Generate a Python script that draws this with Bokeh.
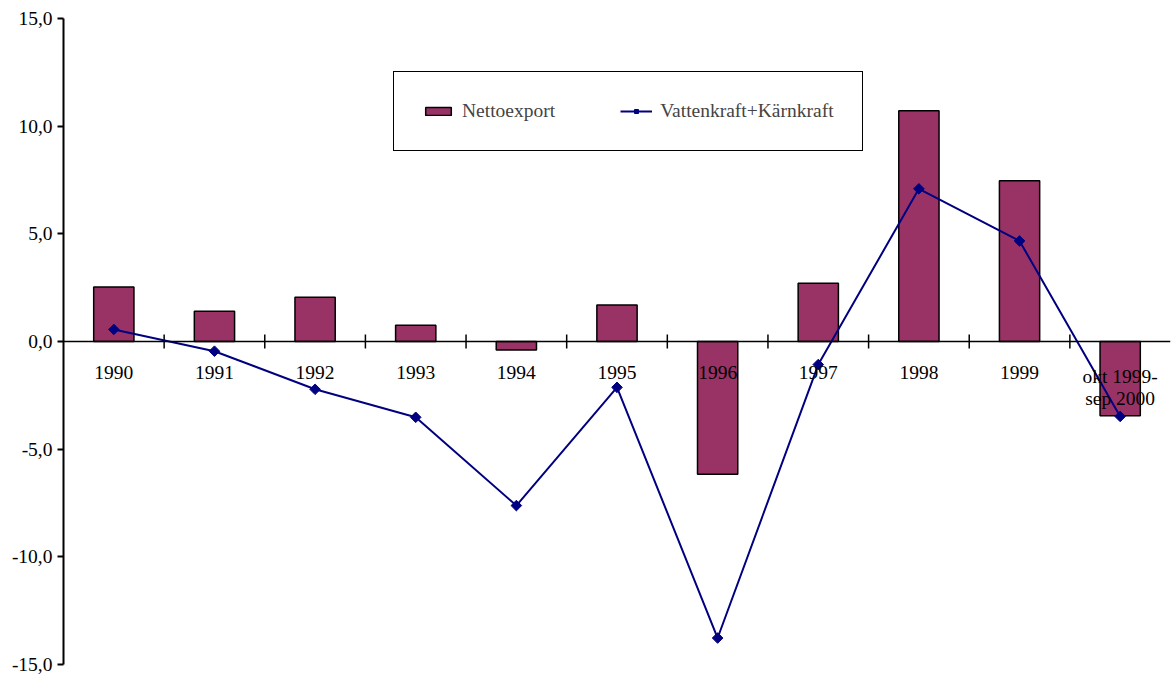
import math
from bokeh.plotting import figure
from bokeh.models import Range1d, FixedTicker, Span, ColumnDataSource, Legend, LegendItem
from bokeh.core.properties import value
from bokeh.embed import file_html
from bokeh.resources import INLINE

categories = ["1990", "1991", "1992", "1993", "1994", "1995", "1996", "1997", "1998", "1999", "okt 1999-\nsep 2000"]
nettoexport = [2.53, 1.41, 2.06, 0.76, -0.40, 1.69, -6.16, 2.71, 10.72, 7.46, -3.45]
vatten_karn = [0.56, -0.45, -2.22, -3.52, -7.62, -2.13, -13.77, -1.07, 7.09, 4.67, -3.48]
y_ticks = [-15, -10, -5, 0, 5, 10, 15]
y_tick_labels = ["-15,0", "-10,0", "-5,0", "0,0", "5,0", "10,0", "15,0"]

FONT = "Liberation Serif"
FS = "19.5px"
BAR_COLOR = "#993366"
LINE_COLOR = "#000080"

n = len(categories)
xc = [i + 0.5 for i in range(n)]
line1 = [c.split("\n")[0] for c in categories]
line2 = [c.split("\n")[1] if "\n" in c else "" for c in categories]
src = ColumnDataSource(dict(x=xc, l1=line1, l2=line2, bar=nettoexport, line=vatten_karn,
                            zero=[0] * n))

p = figure(width=1172, height=675, output_backend="svg", toolbar_location=None,
           x_range=Range1d(0, n), y_range=Range1d(-15, 15),
           min_border_left=63, min_border_right=2, min_border_top=18, min_border_bottom=11)
p.outline_line_color = None
p.xgrid.visible = False
p.ygrid.visible = False
p.xaxis.visible = False

ya = p.yaxis[0]
ya.ticker = FixedTicker(ticks=y_ticks)
ya.major_label_overrides = {t: l for t, l in zip(y_ticks, y_tick_labels)}
ya.axis_line_width = 2
ya.axis_line_color = "black"
ya.major_tick_line_width = 2
ya.major_tick_in = 0
ya.major_tick_out = 6
ya.minor_tick_line_color = None
ya.major_label_standoff = 5
ya.major_label_text_font = FONT
ya.major_label_text_font_size = FS
ya.major_label_text_color = "black"

bars = p.vbar(x="x", top="bar", bottom=0, width=0.4, source=src,
              fill_color=BAR_COLOR, line_color="black", line_width=1.5)

# zero axis line with boundary ticks
p.add_layout(Span(location=0, dimension="width", line_color="black", line_width=1.5))
bounds = list(range(1, n))
p.scatter(x=bounds, y=[0] * len(bounds), marker="dash", angle=math.pi / 2, size=14,
          line_color="black", line_width=1.5)

line = p.line(x="x", y="line", source=src, line_color=LINE_COLOR, line_width=2)
pts = p.scatter(x="x", y="line", source=src, marker="square", angle=math.pi / 4, size=7.5,
                fill_color=LINE_COLOR, line_color=LINE_COLOR)

for col, off in (("l1", 24), ("l2", 46)):
    p.text(x="x", y="zero", text=col, source=src, text_font=value(FONT),
           text_font_size=FS, text_align="center", text_baseline="top",
           y_offset=off, text_color="black")

legend = Legend(items=[LegendItem(label="Nettoexport", renderers=[bars]),
                       LegendItem(label="Vattenkraft+Kärnkraft", renderers=[line, pts])],
                orientation="horizontal", location=(330, 513),
                padding=28, spacing=65, glyph_width=32, glyph_height=10,
                label_standoff=8, label_text_font=FONT, label_text_font_size=FS,
                border_line_color="black", border_line_width=1.5, border_line_alpha=1.0,
                background_fill_color="white", background_fill_alpha=1.0)
p.add_layout(legend, "center")

open("out.html", "w").write(file_html(p, INLINE))
